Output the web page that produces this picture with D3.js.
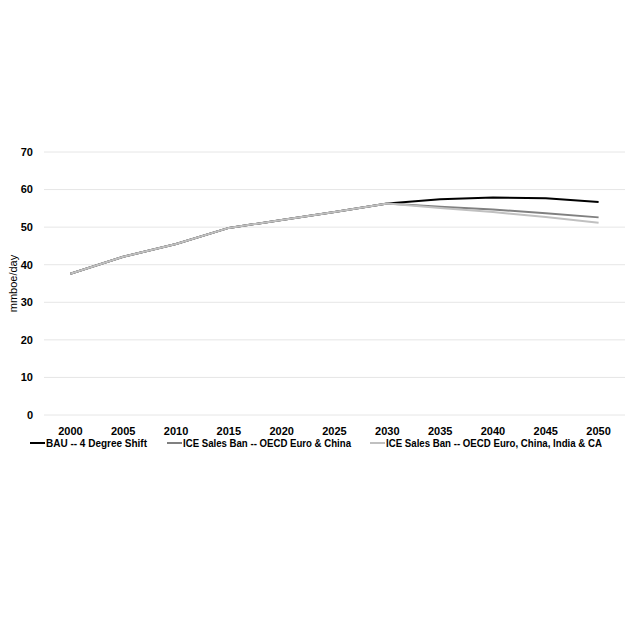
<!DOCTYPE html>
<html><head><meta charset="utf-8">
<script src="https://cdn.jsdelivr.net/npm/d3@7"></script>
<style>body{margin:0;background:#fff;}svg{display:block;font-family:"Liberation Sans",Arial,sans-serif;}</style>
</head><body><svg id="c" width="638" height="638"></svg>
<script>
const years = ["2000","2005","2010","2015","2020","2025","2030","2035","2040","2045","2050"];
const bau = [37.6,42.1,45.5,49.8,51.9,54.0,56.3,57.4,57.9,57.7,56.7];
const iceOecd = [37.6,42.1,45.5,49.8,51.9,54.0,56.3,55.4,54.7,53.7,52.6];
const iceAll = [37.6,42.1,45.5,49.8,51.9,54.0,56.3,55.1,54.0,52.7,51.2];
const yTicks = [0,10,20,30,40,50,60,70];
const seriesNames = ["BAU -- 4 Degree Shift","ICE Sales Ban -- OECD Euro & China","ICE Sales Ban -- OECD Euro, China, India & CA"];
const seriesColors = ["#000000","#808080","#c0c0c0"];
const seriesData = [bau, iceOecd, iceAll];

const svg = d3.select("#c");
const L = 44, R = 625, T = 152, B = 415;
const x = d3.scaleBand().domain(years).range([L, R]);
const y = d3.scaleLinear().domain([0,70]).range([B, T]);

// gridlines
svg.append("g").selectAll("line").data(yTicks).join("line")
  .attr("x1", L).attr("x2", R).attr("y1", d=>y(d)).attr("y2", d=>y(d))
  .attr("stroke", "#e6e6e6").attr("stroke-width", 1);

// y tick labels
svg.append("g").selectAll("text").data(yTicks).join("text")
  .attr("x", 33).attr("y", d=>y(d)).attr("dy","0.35em").attr("text-anchor","end")
  .attr("font-size", 11).attr("font-weight","bold").attr("fill","#000").text(d=>d);

// x tick labels
svg.append("g").selectAll("text").data(years).join("text")
  .attr("x", d=>x(d)+x.bandwidth()/2).attr("y", 431).attr("dy","0.35em").attr("text-anchor","middle")
  .attr("font-size", 11).attr("font-weight","bold").attr("fill","#000").text(d=>d);

// y axis title
svg.append("text").attr("transform", `translate(17,${(T+B)/2}) rotate(-90)`)
  .attr("text-anchor","middle").attr("font-size",11).attr("fill","#000").text("mmboe/day");

const line = d3.line().x((d,i)=>x(years[i])+x.bandwidth()/2).y(d=>y(d));
seriesData.forEach((s,k)=>{
  svg.append("path").datum(s).attr("d", line).attr("fill","none")
    .attr("stroke", seriesColors[k]).attr("stroke-width", 2).attr("stroke-linejoin","round");
});

// legend
const legX = [30, 167, 370];
const legW = [101, 168, 216];
const lg = svg.append("g").selectAll("g").data(seriesNames).join("g")
  .attr("transform", (d,i)=>`translate(${legX[i]},443)`);
lg.append("line").attr("x1",0).attr("x2",15).attr("y1",0).attr("y2",0)
  .attr("stroke",(d,i)=>seriesColors[i]).attr("stroke-width",2);
lg.append("text").attr("x",16).attr("dy","0.35em").attr("font-size",10.5).attr("font-weight","bold")
  .attr("textLength",(d,i)=>legW[i]).attr("lengthAdjust","spacingAndGlyphs")
  .attr("fill","#000").text(d=>d);
</script></body></html>
